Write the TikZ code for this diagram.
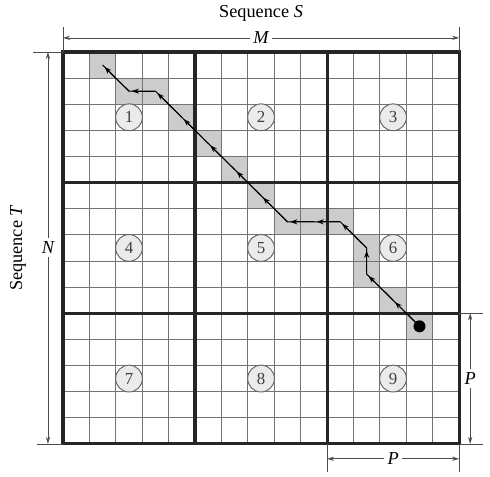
\documentclass[tikz,border=0pt]{standalone}
\usepackage{fontspec}
\setmainfont{Liberation Serif}
\usetikzlibrary{arrows.meta}

\begin{document}
\begin{tikzpicture}[
  x=6.6mm,
  y=6.53mm,
  every node/.style={font=\fontsize{13}{15}\selectfont},
  cellgrid/.style={draw=black!55, line width=0.6pt},
  blockline/.style={draw=black!85, line width=2.2pt},
  hit/.style={fill=black!20},
  blocknum/.style={circle, draw=black!60, fill=black!8, line width=0.7pt, minimum size=6.7mm, inner sep=0pt, text=black!75, font=\fontsize{12}{14}\selectfont},
  trace/.style={draw=black, line width=0.7pt},
  tracetip/.style={trace, -{Stealth[length=5pt,width=3.6pt]}, shorten >=2pt},
  dimline/.style={draw=black!70, line width=0.5pt},
  dimarrow/.style={dimline, {Stealth[length=5pt,width=3pt]}-{Stealth[length=5pt,width=3pt]}},
  dimlab/.style={fill=white, inner sep=2.5pt, font=\fontsize{13}{15}\selectfont\itshape},
]
\useasboundingbox (-2.386,-1.263) rectangle (16.17,16.99);

% Shaded cells on the traceback (col/row, row 0 at top).
\foreach \c/\r in {1/0,2/1,3/1,4/2,5/3,6/4,7/5,8/6,9/6,10/6,11/7,11/8,12/9,13/10}
  \fill[hit] (\c,14-\r) rectangle ++(1,1);

% Grid: 3x3 blocks of 5x5 cells.
\foreach \k in {1,...,14} {
  \draw[cellgrid] (\k,0) -- (\k,15);
  \draw[cellgrid] (0,\k) -- (15,\k);
}
\draw[blockline] (5,0) -- (5,15);
\draw[blockline] (10,0) -- (10,15);
\draw[blockline] (0,5) -- (15,5);
\draw[blockline] (0,10) -- (15,10);
\draw[blockline] (0,0) rectangle (15,15);

% Block numbers.
\node[blocknum] (b1) at (2.5,12.5) {1};
\node[blocknum] (b2) at (7.5,12.5) {2};
\node[blocknum] (b3) at (12.5,12.5) {3};
\node[blocknum] (b4) at (2.5,7.5) {4};
\node[blocknum] (b5) at (7.5,7.5) {5};
\node[blocknum] (b6) at (12.5,7.5) {6};
\node[blocknum] (b7) at (2.5,2.5) {7};
\node[blocknum] (b8) at (7.5,2.5) {8};
\node[blocknum] (b9) at (12.5,2.5) {9};

% Traceback path, from the end cell back to the start.
\foreach \c/\r [count=\i from 0] in {13/10,12/9,11/8,11/7,10/6,9/6,8/6,7/5,6/4,5/3,4/2,3/1,2/1,1/0}
  \coordinate (t\i) at (\c+0.5,14.5-\r);
\draw[trace] (t0) \foreach \i in {1,...,13} {-- (t\i)};
\foreach \i [remember=\i as \j (initially 0)] in {1,...,13}
  \draw[tracetip] (t\j) -- (t\i);
\fill (t0) circle (1.5mm);

% Top: sequence S and length M.
\node (seqS) at (7.5,16.49) {Sequence \textit{S}};
\coordinate (mL0) at (0,15);
\coordinate (mL1) at (0,15.97);
\coordinate (mR0) at (15,15);
\coordinate (mR1) at (15,15.97);
\coordinate (mL) at (0,15.54);
\coordinate (mR) at (15,15.54);
\draw[dimline] (mL0) -- (mL1);
\draw[dimline] (mR0) -- (mR1);
\draw[dimarrow] (mL) -- (mR);
\node[dimlab] (mlab) at (7.5,15.54) {M};

% Left: sequence T and length N.
\node[rotate=90] (seqT) at (-1.70,7.5) {Sequence \textit{T}};
\coordinate (nT0) at (0,15);
\coordinate (nT1) at (-1.12,15);
\coordinate (nB0) at (0,0);
\coordinate (nB1) at (-1.0,0);
\coordinate (nT) at (-0.57,15);
\coordinate (nB) at (-0.57,0);
\draw[dimline] (nT0) -- (nT1);
\draw[dimline] (nB0) -- (nB1);
\draw[dimarrow] (nT) -- (nB);
\node[dimlab] (nlab) at (-0.57,7.5) {N};

% Right: block height P.
\coordinate (pT0) at (15,5);
\coordinate (pT1) at (15.92,5);
\coordinate (pB0) at (15,0);
\coordinate (pB1) at (15.92,0);
\coordinate (pT) at (15.42,5);
\coordinate (pB) at (15.42,0);
\draw[dimline] (pT0) -- (pT1);
\draw[dimline] (pB0) -- (pB1);
\draw[dimarrow] (pT) -- (pB);
\node[dimlab] (plabR) at (15.42,2.5) {P};

% Bottom: block width P.
\coordinate (qL0) at (10,0);
\coordinate (qL1) at (10,-1.07);
\coordinate (qR0) at (15,0);
\coordinate (qR1) at (15,-1.07);
\coordinate (qL) at (10,-0.57);
\coordinate (qR) at (15,-0.57);
\draw[dimline] (qL0) -- (qL1);
\draw[dimline] (qR0) -- (qR1);
\draw[dimarrow] (qL) -- (qR);
\node[dimlab] (plabB) at (12.5,-0.57) {P};

\end{tikzpicture}
\end{document}
